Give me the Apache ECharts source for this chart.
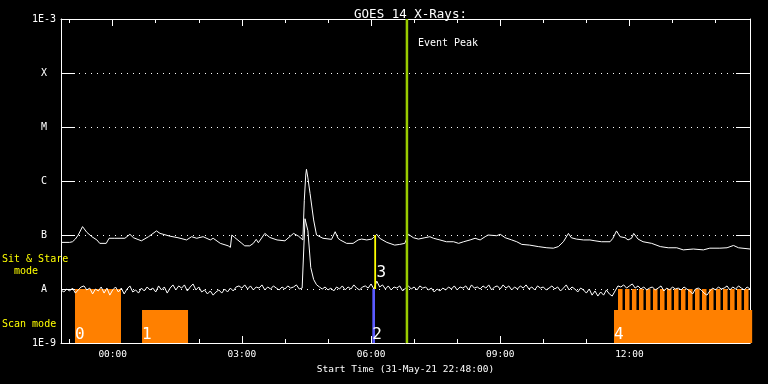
<!DOCTYPE html>
<html><head><meta charset="utf-8">
<script src="https://cdn.jsdelivr.net/npm/echarts@6.0.0/dist/echarts.min.js"></script>
<style>html,body{margin:0;padding:0;background:#000}#c{width:768px;height:384px}</style>
</head><body><div id="c"></div>
<script>
// ---- data (x = minutes since start time 31-May-21 22:48:00) ----
const titleText = 'GOES 14 X-Rays:';
const xAxisName = 'Start Time (31-May-21 22:48:00)';
const xMin = 0, xMax = 960;
const majorTickMin = [72, 252, 432, 612, 792];
const majorTickLabels = ['00:00', '03:00', '06:00', '09:00', '12:00'];
const minorTickMin = [12, 132, 192, 312, 372, 492, 552, 672, 732, 852, 912];
const yMin = 1e-9, yMax = 1e-3;
const yTickExp = [-9, -8, -7, -6, -5, -4, -3];
const yTickLabels = ['1E-9', 'A', 'B', 'C', 'M', 'X', '1E-3'];

// long channel (1-8 A)
const upperChannel = [[1,7.3e-8],[12,7.3e-8],[16,7.5e-8],[20,8.4e-8],[24,1.0e-7],[30,1.43e-7],[36,1.12e-7],[43,9.3e-8],[50,8.1e-8],[54,7.0e-8],[63,7.0e-8],[67,8.7e-8],[69,9.3e-8],[75,8.7e-8],[89,8.7e-8],[96,1.03e-7],[101,8.9e-8],[112,7.8e-8],[122,9.3e-8],[133,1.19e-7],[138,1.07e-7],[152,9.5e-8],[163,8.9e-8],[175,8.1e-8],[177,7.5e-8],[182,9.3e-8],[189,8.7e-8],[198,9.3e-8],[208,8.1e-8],[212,8.7e-8],[222,7.0e-8],[233,6.3e-8],[236,5.9e-8],[238,1.0e-7],[242,9.0e-8],[252,7.0e-8],[256,6.3e-8],[263,6.3e-8],[268,7.0e-8],[272,8.3e-8],[275,7.2e-8],[284,1.07e-7],[291,9.0e-8],[301,8.1e-8],[312,7.8e-8],[324,1.07e-7],[331,9.5e-8],[337,8.1e-8],[339,4.4e-7],[341,1.29e-6],[342,1.65e-6],[344,1.14e-6],[347,5.9e-7],[352,1.9e-7],[356,1.0e-7],[365,8.7e-8],[377,8.3e-8],[382,1.15e-7],[386,8.7e-8],[389,8.1e-8],[398,7.0e-8],[407,7.0e-8],[414,8.1e-8],[419,8.4e-8],[426,8.1e-8],[433,8.4e-8],[440,1.03e-7],[444,8.7e-8],[454,7.3e-8],[465,6.5e-8],[472,6.7e-8],[479,7.0e-8],[484,1.03e-7],[491,8.9e-8],[498,8.4e-8],[507,8.9e-8],[514,9.3e-8],[519,8.7e-8],[528,8.1e-8],[537,7.5e-8],[547,7.5e-8],[554,7.0e-8],[561,7.5e-8],[570,8.1e-8],[577,8.7e-8],[584,8.1e-8],[591,9.3e-8],[595,1.0e-7],[607,9.7e-8],[612,1.03e-7],[619,8.9e-8],[628,8.1e-8],[635,7.5e-8],[642,6.7e-8],[653,6.5e-8],[665,6.1e-8],[677,5.8e-8],[686,5.7e-8],[693,6.1e-8],[700,7.5e-8],[707,1.07e-7],[711,8.9e-8],[718,8.4e-8],[728,8.1e-8],[737,8.1e-8],[744,7.8e-8],[753,7.5e-8],[765,7.5e-8],[769,8.7e-8],[774,1.19e-7],[779,9.3e-8],[786,8.9e-8],[790,8.1e-8],[795,8.7e-8],[798,1.07e-7],[804,8.4e-8],[811,7.5e-8],[823,7.0e-8],[835,6.1e-8],[846,5.8e-8],[858,5.8e-8],[867,5.3e-8],[881,5.5e-8],[895,5.3e-8],[904,5.7e-8],[918,5.7e-8],[928,5.8e-8],[937,6.4e-8],[944,5.8e-8],[960,5.5e-8]];

// short channel (0.5-4 A), sampled every 4 minutes from start
const lowerStartMin = 0, lowerStepMin = 4;
const lowerFlux = [
9.6e-9,8.8e-9,1.0e-8,9.2e-9,1.04e-8,8.4e-9,9.6e-9,1.09e-8,1.14e-8,9.6e-9,
1.04e-8,8.1e-9,1.0e-8,9.2e-9,1.09e-8,8.4e-9,1.04e-8,7.7e-9,9.6e-9,1.09e-8,
8.8e-9,1.04e-8,8.1e-9,1.0e-8,1.14e-8,8.8e-9,9.6e-9,8.4e-9,1.04e-8,9.2e-9,
1.09e-8,9.6e-9,1.04e-8,8.8e-9,1.14e-8,9.6e-9,1.09e-8,8.4e-9,1.04e-8,1.19e-8,
9.6e-9,1.14e-8,1.04e-8,1.19e-8,9.2e-9,1.09e-8,1.24e-8,9.6e-9,1.09e-8,8.8e-9,
9.6e-9,8.1e-9,9.2e-9,7.7e-9,8.8e-9,9.6e-9,8.4e-9,1.0e-8,8.8e-9,1.04e-8,
9.2e-9,1.09e-8,1.14e-8,1.04e-8,1.19e-8,1.0e-8,1.14e-8,9.6e-9,1.09e-8,1.04e-8,
1.19e-8,9.6e-9,1.09e-8,1.0e-8,1.14e-8,1.04e-8,9.6e-9,1.09e-8,1.0e-8,1.14e-8,
1.04e-8,1.09e-8,1.19e-8,1.0e-8,1.04e-8,2.0e-7,1.2e-7,2.5e-8,1.5e-8,1.2e-8,
1.09e-8,1.0e-8,1.09e-8,9.6e-9,1.04e-8,9.2e-9,1.09e-8,1.0e-8,1.14e-8,9.6e-9,
1.09e-8,1.0e-8,1.19e-8,1.04e-8,9.6e-9,1.09e-8,1.14e-8,1.04e-8,1.24e-8,1.0e-8,
1.4e-8,1.09e-8,1.19e-8,1.0e-8,1.14e-8,9.6e-9,1.09e-8,1.04e-8,1.14e-8,9.2e-9,
1.04e-8,1.14e-8,1.0e-8,1.09e-8,9.6e-9,1.14e-8,1.04e-8,1.09e-8,9.6e-9,1.04e-8,
8.8e-9,1.0e-8,9.2e-9,1.04e-8,9.6e-9,1.09e-8,1.0e-8,1.14e-8,9.6e-9,1.09e-8,
1.04e-8,1.14e-8,9.6e-9,1.19e-8,1.04e-8,1.09e-8,1.0e-8,1.14e-8,1.04e-8,1.19e-8,
9.6e-9,1.09e-8,1.14e-8,1.0e-8,1.19e-8,1.04e-8,1.14e-8,9.6e-9,1.09e-8,1.0e-8,
1.14e-8,1.04e-8,1.19e-8,1.0e-8,1.09e-8,9.6e-9,1.14e-8,1.04e-8,1.09e-8,9.6e-9,
1.04e-8,1.14e-8,1.0e-8,1.09e-8,9.2e-9,1.04e-8,1.19e-8,9.6e-9,1.09e-8,1.0e-8,
8.8e-9,1.04e-8,9.6e-9,8.4e-9,1.0e-8,7.7e-9,9.2e-9,7.4e-9,8.8e-9,7.7e-9,
9.6e-9,8.1e-9,7.4e-9,9.2e-9,1.14e-8,1.09e-8,1.19e-8,1.04e-8,1.14e-8,1.24e-8,
1.04e-8,1.14e-8,1.0e-8,1.09e-8,9.6e-9,1.04e-8,1.09e-8,9.6e-9,1.04e-8,1.14e-8,
9.2e-9,1.04e-8,9.6e-9,1.09e-8,1.0e-8,1.04e-8,9.6e-9,1.09e-8,1.0e-8,9.2e-9,
8.1e-9,1.0e-8,1.04e-8,9.6e-9,8.4e-9,7.7e-9,9.2e-9,1.04e-8,9.6e-9,1.09e-8,
1.0e-8,1.04e-8,1.14e-8,9.6e-9,1.09e-8,1.0e-8,1.14e-8,1.04e-8,9.6e-9,1.09e-8,
1.0e-8];

// scan-mode observation blocks: [start, end, top flux, label]
const scanBlocks = [[19.5, 83.6, 1.0e-8, '0'], [112.9, 177, 4.1e-9, '1'], [770.5, 963, 4.1e-9, '4']];
const scanComb = [776.1, 785.8, 795.5, 805.3, 815.0, 824.8, 834.6, 844.3, 854.1, 863.8, 873.6, 883.4, 893.1, 902.9, 912.6, 922.4, 932.2, 941.9, 951.7];
const scanCombDuration = 6.3, scanCombTop = 1.0e-8;
const scanMarker = [[433.8, 437.5, 1.0e-8, '2']];
// sit & stare: [start, end, top flux, bottom flux, label]
const stareMarker = [[436.5, 439, 1.0e-7, 1.0e-8, '3']];
const eventPeakMin = [482];
const eventPeakLabel = 'Event Peak';
const sideLabels = ['Sit & Stare', 'mode', 'Scan mode'];

// ---- chart ----
const lowerChannel = lowerFlux.map((v, i) => [lowerStartMin + i * lowerStepMin, v]);
const MONO = 'DejaVu Sans Mono';
const ORANGE = '#ff8000';

function blockRender(list, color, labelMode) {
  return function (params, api) {
    const d = list[params.dataIndex];
    const bottom = labelMode === 'stare' ? d[3] : yMin;
    const p1 = api.coord([d[0], d[2]]);
    const p2 = api.coord([d[1], bottom]);
    const children = [{
      type: 'rect',
      shape: { x: p1[0], y: p1[1], width: Math.max(p2[0] - p1[0], 1), height: p2[1] - p1[1] },
      style: { fill: color }
    }];
    const lab = labelMode === 'stare' ? d[4] : d[3];
    if (lab !== undefined) {
      children.push({
        type: 'text', z2: 10,
        x: labelMode === 'stare' ? p2[0] + 0.5 : p1[0],
        y: labelMode === 'stare' ? p2[1] - 8 : p2[1],
        style: { text: lab, fill: '#fff', fontFamily: MONO, fontSize: 16, align: 'left', verticalAlign: 'bottom' }
      });
    }
    return { type: 'group', children };
  };
}

const combData = scanComb.map(s => [s, s + scanCombDuration, scanCombTop]);

const chart = echarts.init(document.getElementById('c'), null, { renderer: 'canvas' });
const axisWhite = { color: '#fff', width: 1 };

const option = {
  backgroundColor: '#000',
  animation: false,
  title: {
    text: titleText, left: 405.5, top: 3, textAlign: 'center',
    textStyle: { color: '#fff', fontFamily: MONO, fontSize: 12.5, fontWeight: 'normal' }
  },
  grid: { left: 61, right: 18, top: 19, bottom: 41, containLabel: false },
  xAxis: [
    {
      type: 'value', position: 'bottom', min: xMin, max: xMax,
      axisLine: { show: true, onZero: false, lineStyle: axisWhite },
      axisTick: { show: true, inside: true, length: 7, customValues: majorTickMin, lineStyle: axisWhite },
      axisLabel: {
        show: true, customValues: majorTickMin, margin: 7, color: '#fff', fontFamily: MONO, fontSize: 9.5,
        formatter: v => { const i = majorTickMin.indexOf(Math.round(v)); return i >= 0 ? majorTickLabels[i] : ''; }
      },
      splitLine: { show: false },
      name: xAxisName, nameLocation: 'middle', nameGap: 21,
      nameTextStyle: { color: '#fff', fontFamily: MONO, fontSize: 9.5 }
    },
    {
      type: 'value', position: 'bottom', min: xMin, max: xMax,
      axisLine: { show: false, onZero: false },
      axisTick: { show: true, inside: true, length: 4, customValues: minorTickMin, lineStyle: axisWhite },
      axisLabel: { show: false }, splitLine: { show: false }
    },
    {
      type: 'value', position: 'top', min: xMin, max: xMax,
      axisLine: { show: true, onZero: false, lineStyle: axisWhite },
      axisTick: { show: true, inside: true, length: 7, customValues: majorTickMin, lineStyle: axisWhite },
      axisLabel: { show: false }, splitLine: { show: false }
    },
    {
      type: 'value', position: 'top', min: xMin, max: xMax,
      axisLine: { show: false, onZero: false },
      axisTick: { show: true, inside: true, length: 4, customValues: minorTickMin, lineStyle: axisWhite },
      axisLabel: { show: false }, splitLine: { show: false }
    }
  ],
  yAxis: [
    {
      type: 'log', logBase: 10, min: yMin, max: yMax, splitNumber: 6, position: 'left',
      axisLine: { show: true, onZero: false, lineStyle: axisWhite },
      axisTick: { show: true, inside: true, length: 14, lineStyle: axisWhite },
      axisLabel: {
        color: '#fff', fontFamily: MONO, fontSize: 10, margin: 17, align: 'center',
        formatter: v => { const i = yTickExp.indexOf(Math.round(Math.log10(v))); return i >= 0 ? yTickLabels[i] : ''; }
      },
      splitLine: { show: true, lineStyle: { color: '#fff', width: 1, type: [1, 5] } },
      minorTick: { show: false }
    },
    {
      type: 'log', logBase: 10, min: yMin, max: yMax, splitNumber: 6, position: 'right',
      axisLine: { show: true, onZero: false, lineStyle: axisWhite },
      axisTick: { show: true, inside: true, length: 14, lineStyle: axisWhite },
      axisLabel: { show: false }, splitLine: { show: false }
    }
  ],
  graphic: [
    { type: 'text', left: 2, top: 254, style: { text: sideLabels[0], fill: '#ffff00', fontFamily: MONO, fontSize: 10 } },
    { type: 'text', left: 14, top: 266, style: { text: sideLabels[1], fill: '#ffff00', fontFamily: MONO, fontSize: 10 } },
    { type: 'text', left: 2, top: 319, style: { text: sideLabels[2], fill: '#ffff00', fontFamily: MONO, fontSize: 10 } }
  ],
  series: [
    {
      type: 'custom', name: 'scanComb', coordinateSystem: 'cartesian2d', z: 1, silent: true,
      encode: { x: [0, 1], y: 2 }, data: combData,
      renderItem: blockRender(combData, ORANGE, 'scan')
    },
    {
      type: 'custom', name: 'scan', coordinateSystem: 'cartesian2d', z: 1, silent: true,
      encode: { x: [0, 1], y: 2 }, data: scanBlocks.map(d => [d[0], d[1], d[2]]),
      renderItem: blockRender(scanBlocks, ORANGE, 'scan'), clip: false
    },
    {
      type: 'line', name: 'long', data: upperChannel, showSymbol: false, z: 3,
      lineStyle: { color: '#fff', width: 1 }, silent: true
    },
    {
      type: 'line', name: 'short', data: lowerChannel, showSymbol: false, z: 3,
      lineStyle: { color: '#fff', width: 1 }, silent: true
    },
    {
      type: 'custom', name: 'scanMarker', coordinateSystem: 'cartesian2d', z: 4, silent: true,
      encode: { x: [0, 1], y: 2 }, data: scanMarker.map(d => [d[0], d[1], d[2]]),
      renderItem: blockRender(scanMarker, '#5a5aff', 'scan')
    },
    {
      type: 'custom', name: 'stare', coordinateSystem: 'cartesian2d', z: 4, silent: true,
      encode: { x: [0, 1], y: 2 }, data: stareMarker.map(d => [d[0], d[1], d[2]]),
      renderItem: blockRender(stareMarker, '#ffff00', 'stare')
    },
    {
      type: 'custom', name: 'eventPeak', coordinateSystem: 'cartesian2d', z: 5, silent: true,
      encode: { x: 0, y: 1 }, data: eventPeakMin.map(t => [t, 1e-6]),
      renderItem: function (params, api) {
        const t = api.value(0);
        const top = api.coord([t, yMax]);
        const bot = api.coord([t, yMin]);
        return {
          type: 'group', children: [
            { type: 'line', shape: { x1: top[0], y1: top[1], x2: bot[0], y2: bot[1] }, style: { stroke: '#99cc00', lineWidth: 2.5 } },
            { type: 'text', x: top[0] + 11, y: top[1] + 24, style: { text: eventPeakLabel, fill: '#fff', fontFamily: MONO, fontSize: 10, verticalAlign: 'middle' } }
          ]
        };
      }
    }
  ]
};
chart.setOption(option);
</script>
</body></html>
